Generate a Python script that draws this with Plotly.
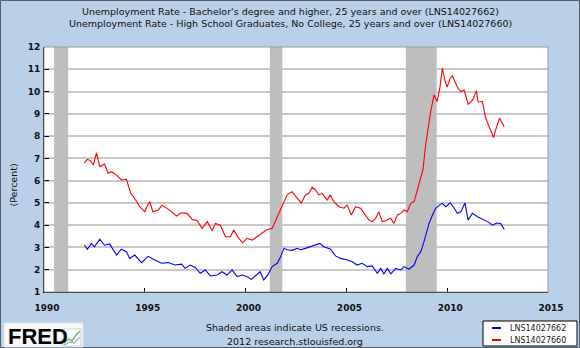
import plotly.graph_objects as go

# ---------------- data ----------------
title_lines = [
    "Unemployment Rate - Bachelor's degree and higher, 25 years and over (LNS14027662)",
    "Unemployment Rate - High School Graduates, No College, 25 years and over (LNS14027660)",
]
series_names = ["LNS14027662", "LNS14027660"]

bach_year = [1992.0, 1992.15, 1992.35, 1992.5, 1992.77, 1993.0, 1993.25, 1993.6, 1993.84, 1994.09,
             1994.25, 1994.5, 1994.84, 1995.16, 1995.5, 1995.83, 1996.16, 1996.5, 1996.83, 1997.0,
             1997.25, 1997.5, 1997.75, 1998.0, 1998.25, 1998.58, 1998.83, 1999.08, 1999.33, 1999.58,
             1999.83, 2000.08, 2000.28, 2000.5, 2000.72, 2000.9, 2001.1, 2001.32, 2001.57, 2001.74,
             2001.9, 2002.06, 2002.3, 2002.56, 2002.72, 2002.97, 2003.22, 2003.47, 2003.68, 2003.88,
             2004.2, 2004.46, 2004.71, 2005.04, 2005.29, 2005.53, 2005.78, 2006.03, 2006.28, 2006.53,
             2006.7, 2006.86, 2007.03, 2007.2, 2007.45, 2007.7, 2007.86, 2008.1, 2008.36, 2008.52,
             2008.69, 2008.85, 2009.1, 2009.27, 2009.43, 2009.6, 2009.76, 2009.93, 2010.15, 2010.35,
             2010.5, 2010.68, 2010.88, 2011.04, 2011.25, 2011.5, 2011.75, 2012.0, 2012.25, 2012.46,
             2012.66, 2012.83]
bach_rate = [3.11, 2.92, 3.18, 3.03, 3.37, 3.10, 3.16, 2.66, 2.92, 2.81,
             2.51, 2.66, 2.32, 2.60, 2.44, 2.29, 2.32, 2.21, 2.25, 2.06,
             2.21, 2.10, 1.84, 1.99, 1.72, 1.76, 1.91, 1.76, 1.99, 1.69,
             1.76, 1.69, 1.57, 1.76, 1.91, 1.54, 1.76, 2.14, 2.29, 2.59,
             2.96, 2.90, 2.87, 2.96, 2.90, 2.96, 3.03, 3.11, 3.18, 3.03,
             2.93, 2.62, 2.51, 2.44, 2.36, 2.21, 2.29, 2.14, 2.17, 1.84,
             2.06, 1.81, 2.06, 1.81, 2.06, 1.99, 2.14, 2.02, 2.21, 2.59,
             2.81, 3.26, 4.08, 4.46, 4.76, 4.90, 4.98, 4.83, 5.00, 4.76,
             4.53, 4.60, 5.00, 4.23, 4.53, 4.38, 4.26, 4.16, 4.00, 4.10,
             4.08, 3.81]

hs_year = [1992.0, 1992.15, 1992.3, 1992.45, 1992.6, 1992.77, 1993.0, 1993.18, 1993.35, 1993.6,
           1993.84, 1994.09, 1994.3, 1994.5, 1994.75, 1995.0, 1995.1, 1995.25, 1995.4, 1995.67,
           1995.85, 1996.0, 1996.2, 1996.33, 1996.58, 1996.8, 1997.1, 1997.35, 1997.6, 1997.84,
           1998.1, 1998.34, 1998.5, 1998.75, 1999.0, 1999.25, 1999.41, 1999.66, 1999.86, 2000.07,
           2000.32, 2000.57, 2000.82, 2001.03, 2001.32, 2001.57, 2001.81, 2002.06, 2002.3, 2002.56,
           2002.76, 2002.97, 2003.14, 2003.3, 2003.47, 2003.63, 2003.8, 2004.05, 2004.2, 2004.38,
           2004.63, 2004.88, 2005.04, 2005.24, 2005.46, 2005.7, 2005.95, 2006.12, 2006.28, 2006.45,
           2006.61, 2006.78, 2006.95, 2007.2, 2007.36, 2007.53, 2007.7, 2007.86, 2008.02, 2008.19,
           2008.36, 2008.52, 2008.69, 2008.8, 2008.93, 2009.18, 2009.35, 2009.5, 2009.64, 2009.76,
           2009.9, 2010.0, 2010.15, 2010.26, 2010.38, 2010.5, 2010.68, 2010.84, 2011.04, 2011.25,
           2011.45, 2011.53, 2011.75, 2011.91, 2012.08, 2012.3, 2012.4, 2012.6, 2012.83]
hs_rate = [6.80, 6.95, 6.90, 6.70, 7.25, 6.63, 6.75, 6.33, 6.40, 6.25,
           6.03, 6.06, 5.43, 5.20, 4.83, 4.60, 4.83, 5.06, 4.60, 4.68,
           4.90, 4.83, 4.70, 4.60, 4.41, 4.56, 4.53, 4.26, 4.20, 3.86,
           4.16, 3.75, 4.08, 4.00, 3.48, 3.48, 3.78, 3.41, 3.21, 3.41,
           3.33, 3.48, 3.63, 3.78, 3.86, 4.38, 4.90, 5.36, 5.50, 5.20,
           5.00, 5.36, 5.43, 5.70, 5.58, 5.36, 5.43, 5.13, 5.36, 5.06,
           4.83, 4.76, 4.90, 4.46, 4.83, 4.76, 4.46, 4.23, 4.16, 4.30,
           4.60, 4.16, 4.20, 4.31, 4.08, 4.46, 4.53, 4.68, 4.60, 4.98,
           5.06, 5.58, 6.18, 6.50, 7.60, 9.10, 9.85, 9.55, 10.20, 11.05,
           10.45, 10.20, 10.60, 10.70, 10.45, 10.20, 9.99, 10.07, 9.43, 9.60,
           10.03, 9.53, 9.55, 8.80, 8.42, 7.93, 8.27, 8.80, 8.42]

rec_start = [1990.5, 2001.2, 2007.95]
rec_end = [1991.2, 2001.82, 2009.48]

x_ticks = [1990, 1995, 2000, 2005, 2010, 2015]
y_ticks = list(range(1, 13))

# ---------------- styling ----------------
BG = "#B9D0E8"
L, R, T, B = 44, 32, 47, 56
W, H = 580, 348
PW, PH = W - L - R, H - T - B


def px(x):
    return (x - L) / PW


def py(y):
    return (H - B - y) / PH


FONT = "DejaVu Sans"
BLUE, RED = "#0000FF", "#FF0000"

fig = go.Figure()
fig.add_trace(go.Scatter(x=bach_year, y=bach_rate, mode="lines", name=series_names[0],
                         line=dict(color=BLUE, width=1.1), showlegend=False))
fig.add_trace(go.Scatter(x=hs_year, y=hs_rate, mode="lines", name=series_names[1],
                         line=dict(color=RED, width=1.1), showlegend=False))

shapes = []
# page border
shapes.append(dict(type="rect", xref="paper", yref="paper", x0=px(0.5), x1=px(W - 0.5),
                   y0=py(H - 0.5), y1=py(0.5), line=dict(color="#55606c", width=1), layer="below"))
# recessions
for s, e in zip(rec_start, rec_end):
    shapes.append(dict(type="rect", xref="x", yref="y", x0=s, x1=e, y0=1, y1=12,
                       fillcolor="#BEBEBE", line=dict(width=0), layer="between"))
# plot frame (top/right)
shapes.append(dict(type="rect", xref="paper", yref="paper", x0=0, x1=1, y0=0, y1=1,
                   line=dict(color="#9a9a9a", width=1), layer="above"))
# FRED logo box
shapes.append(dict(type="rect", xref="paper", yref="paper", x0=px(4), x1=px(83), y0=py(347), y1=py(323),
                   fillcolor="#F7F8FA", line=dict(color="#E0E4E8", width=1), layer="above"))
# small chart icon
shapes.append(dict(type="rect", xref="paper", yref="paper", x0=px(63), x1=px(81), y0=py(346), y1=py(329),
                   fillcolor="#FFFFFF", line=dict(color="#C8D0D8", width=1), layer="above"))
shapes.append(dict(type="path", xref="paper", yref="paper",
                   path="M {} {} L {} {} L {} {} L {} {} L {} {}".format(
                       px(64), py(343), px(69), py(339), px(72), py(341), px(76), py(335), px(80), py(331)),
                   line=dict(color="#6aa84f", width=1.3), layer="above"))
shapes.append(dict(type="path", xref="paper", yref="paper",
                   path="M {} {} L {} {} L {} {} L {} {}".format(
                       px(64), py(345), px(70), py(342), px(74), py(343), px(80), py(337)),
                   line=dict(color="#8fb0d8", width=1.2), layer="above"))
# legend box
shapes.append(dict(type="rect", xref="paper", yref="paper", x0=px(483), x1=px(577), y0=py(346), y1=py(321),
                   fillcolor="#FFFFFF", line=dict(color="#000000", width=1), layer="above"))
for yy, col in zip([328, 340], [BLUE, RED]):
    shapes.append(dict(type="line", xref="paper", yref="paper", x0=px(492), x1=px(501), y0=py(yy), y1=py(yy),
                       line=dict(color=col, width=2), layer="above"))

annotations = []
for i, t in enumerate(title_lines):
    annotations.append(dict(text=t, xref="paper", yref="paper", x=px(290), y=py(11 + 13 * i),
                            xanchor="center", yanchor="middle", showarrow=False,
                            font=dict(family=FONT, size=9.5, color="#111111")))
annotations.append(dict(text="(Percent)", xref="paper", yref="paper", x=px(12.5), y=py(185),
                        textangle=-90, xanchor="center", yanchor="middle", showarrow=False,
                        font=dict(family=FONT, size=9.5, color="#111111")))
for i, t in enumerate(["Shaded areas indicate US recessions.", "2012 research.stlouisfed.org"]):
    annotations.append(dict(text=t, xref="paper", yref="paper", x=px(295), y=py(327 + 14 * i),
                            xanchor="center", yanchor="middle", showarrow=False,
                            font=dict(family=FONT, size=9.5, color="#111111")))
for yy, name in zip([328, 340], series_names):
    annotations.append(dict(text=name, xref="paper", yref="paper", x=px(508), y=py(yy),
                            xanchor="left", yanchor="middle", showarrow=False,
                            font=dict(family=FONT, size=8, color="#1a1a1a")))
annotations.append(dict(text="<b>FRED</b>", xref="paper", yref="paper", x=px(6), y=py(336),
                        xanchor="left", yanchor="middle", showarrow=False,
                        font=dict(family="Liberation Sans", size=22, color="#000000")))

TICKFONT = dict(family=FONT, size=9, color="#111111", weight="bold")

fig.update_layout(
    width=W, height=H, autosize=False,
    margin=dict(l=L, r=R, t=T, b=B, pad=0),
    paper_bgcolor=BG, plot_bgcolor="#FFFFFF",
    shapes=shapes, annotations=annotations,
    showlegend=False,
    xaxis=dict(range=[1990, 2015], tickvals=x_ticks, ticktext=[str(v) for v in x_ticks],
               showgrid=False, zeroline=False, showline=True, linecolor="#000000", linewidth=1,
               ticks="inside", ticklen=4, tickcolor="#000000", ticklabelshift=3,
               ticklabelstandoff=7, tickfont=TICKFONT),
    yaxis=dict(range=[1, 12], tickvals=y_ticks, showgrid=True, gridcolor="#C8C8C8", gridwidth=2,
               zeroline=False, showline=True, linecolor="#000000", linewidth=1,
               ticks="inside", ticklen=5, tickcolor="#000000", ticklabelstandoff=1,
               tickfont=TICKFONT),
)

fig.write_html("out.html")
